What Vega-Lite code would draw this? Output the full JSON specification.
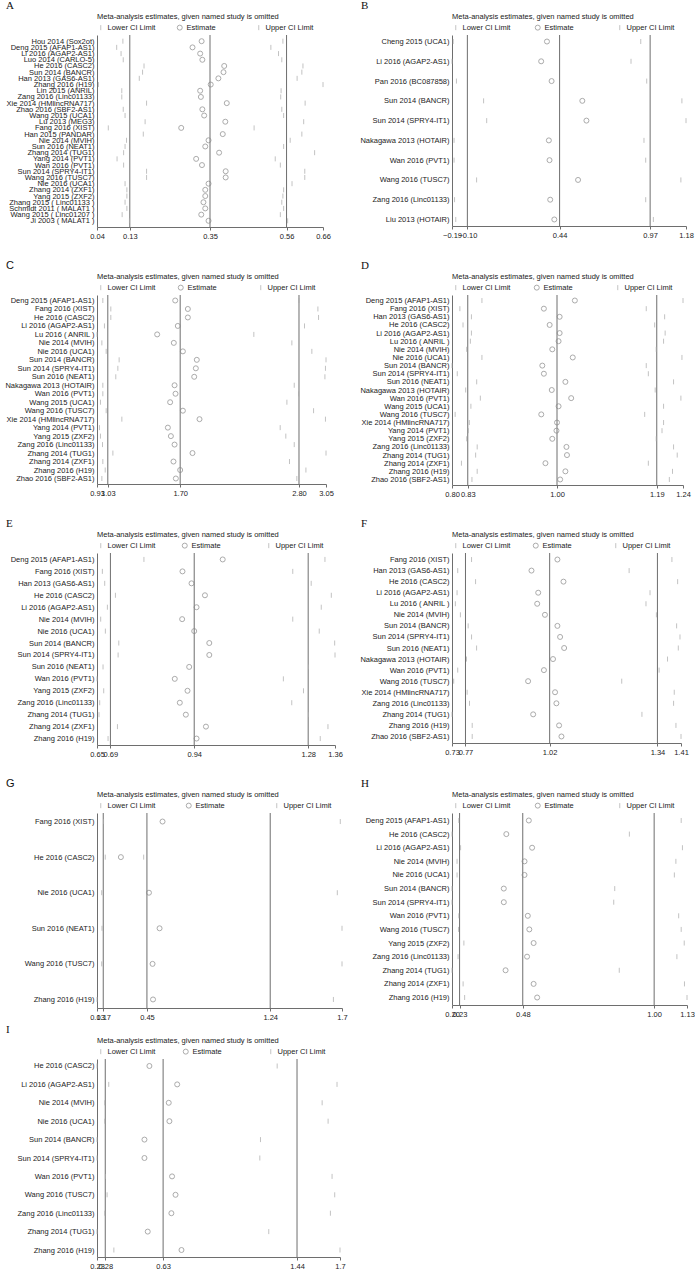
{
"$schema": "https://vega.github.io/schema/vega-lite/v6.json",
"padding": 0,
"background": "white",
"spacing": 3,
"resolve": {"scale": {"shape": "independent", "color": "independent"}, "legend": {"shape": "independent", "color": "independent"}},
"datasets": {
"refs": [
{"p":"A","v":0.13},{"p":"A","v":0.35},{"p":"A","v":0.56},
{"p":"B","v":-0.10},{"p":"B","v":0.44},{"p":"B","v":0.97},
{"p":"C","v":1.03},{"p":"C","v":1.70},{"p":"C","v":2.80},
{"p":"D","v":0.83},{"p":"D","v":1.00},{"p":"D","v":1.19},
{"p":"E","v":0.69},{"p":"E","v":0.94},{"p":"E","v":1.28},
{"p":"F","v":0.77},{"p":"F","v":1.02},{"p":"F","v":1.34},
{"p":"G","v":0.17},{"p":"G","v":0.45},{"p":"G","v":1.24},
{"p":"H","v":0.23},{"p":"H","v":0.48},{"p":"H","v":1.00},
{"p":"I","v":0.28},{"p":"I","v":0.63},{"p":"I","v":1.44}
],
"rows": [
{"p":"A","s":"Hou 2014 (Sox2ot)","lo":0.111,"est":0.327,"hi":0.550},
{"p":"A","s":"Deng 2015 (AFAP1-AS1)","lo":0.094,"est":0.302,"hi":0.517},
{"p":"A","s":"Li 2016 (AGAP2-AS1)","lo":0.106,"est":0.323,"hi":0.538},
{"p":"A","s":"Luo 2014 (CARLO-5)","lo":0.112,"est":0.329,"hi":0.547},
{"p":"A","s":"He 2016 (CASC2)","lo":0.169,"est":0.389,"hi":0.605},
{"p":"A","s":"Sun 2014 (BANCR)","lo":0.165,"est":0.387,"hi":0.602},
{"p":"A","s":"Han 2013 (GAS6-AS1)","lo":0.156,"est":0.373,"hi":0.589},
{"p":"A","s":"Zhang 2016 (H19)","lo":0.044,"est":0.352,"hi":0.660},
{"p":"A","s":"Lin 2015 (ANRIL)","lo":0.108,"est":0.323,"hi":0.545},
{"p":"A","s":"Zang 2016 (Linc01133)","lo":0.108,"est":0.325,"hi":0.544},
{"p":"A","s":"Xie 2014 (HMlincRNA717)","lo":0.176,"est":0.396,"hi":0.611},
{"p":"A","s":"Zhao 2016 (SBF2-AS1)","lo":0.112,"est":0.329,"hi":0.547},
{"p":"A","s":"Wang 2015 (UCA1)","lo":0.117,"est":0.334,"hi":0.552},
{"p":"A","s":"Lu 2013 (MEG3)","lo":0.172,"est":0.392,"hi":0.607},
{"p":"A","s":"Fang 2016 (XIST)","lo":0.071,"est":0.271,"hi":0.471},
{"p":"A","s":"Han 2015 (PANDAR)","lo":0.167,"est":0.385,"hi":0.602},
{"p":"A","s":"Nie 2014 (MVIH)","lo":0.121,"est":0.346,"hi":0.570},
{"p":"A","s":"Sun 2016 (NEAT1)","lo":0.117,"est":0.337,"hi":0.552},
{"p":"A","s":"Zhang 2014 (TUG1)","lo":0.113,"est":0.375,"hi":0.637},
{"p":"A","s":"Yang 2014 (PVT1)","lo":0.095,"est":0.312,"hi":0.529},
{"p":"A","s":"Wan 2016 (PVT1)","lo":0.113,"est":0.328,"hi":0.543},
{"p":"A","s":"Sun 2014 (SPRY4-IT1)","lo":0.176,"est":0.393,"hi":0.610},
{"p":"A","s":"Wang 2016 (TUSC7)","lo":0.176,"est":0.393,"hi":0.610},
{"p":"A","s":"Nie 2016 (UCA1)","lo":0.117,"est":0.346,"hi":0.575},
{"p":"A","s":"Zhang 2014 (ZXF1)","lo":0.122,"est":0.337,"hi":0.552},
{"p":"A","s":"Yang 2015 (ZXF2)","lo":0.122,"est":0.337,"hi":0.550},
{"p":"A","s":"Zhang 2015 ( Linc01133 )","lo":0.117,"est":0.332,"hi":0.547},
{"p":"A","s":"Schmidt 2011 ( MALAT1 )","lo":0.122,"est":0.337,"hi":0.552},
{"p":"A","s":"Wang 2015 ( Linc01207 )","lo":0.109,"est":0.326,"hi":0.543},
{"p":"A","s":"Ji 2003 ( MALAT1 )","lo":0.129,"est":0.346,"hi":0.563},
{"p":"B","s":"Cheng 2015 (UCA1)","lo":-0.183,"est":0.366,"hi":0.915},
{"p":"B","s":"Li 2016 (AGAP2-AS1)","lo":-0.19,"est":0.332,"hi":0.858},
{"p":"B","s":"Pan 2016 (BC087858)","lo":-0.164,"est":0.393,"hi":0.950},
{"p":"B","s":"Sun 2014 (BANCR)","lo":-0.005,"est":0.573,"hi":1.156},
{"p":"B","s":"Sun 2014 (SPRY4-IT1)","lo":0.013,"est":0.597,"hi":1.18},
{"p":"B","s":"Nakagawa 2013 (HOTAIR)","lo":-0.178,"est":0.377,"hi":0.934},
{"p":"B","s":"Wan 2016 (PVT1)","lo":-0.178,"est":0.381,"hi":0.944},
{"p":"B","s":"Wang 2016 (TUSC7)","lo":-0.046,"est":0.548,"hi":1.150},
{"p":"B","s":"Zang 2016 (Linc01133)","lo":-0.175,"est":0.385,"hi":0.944},
{"p":"B","s":"Liu 2013 (HOTAIR)","lo":-0.168,"est":0.409,"hi":0.989},
{"p":"C","s":"Deng 2015 (AFAP1-AS1)","lo":0.984,"est":1.654,"hi":2.80},
{"p":"C","s":"Fang 2016 (XIST)","lo":1.058,"est":1.771,"hi":2.975},
{"p":"C","s":"He 2016 (CASC2)","lo":1.058,"est":1.771,"hi":2.981},
{"p":"C","s":"Li 2016 (AGAP2-AS1)","lo":0.999,"est":1.678,"hi":2.851},
{"p":"C","s":"Lu 2016  ( ANRIL )","lo":0.93,"est":1.487,"hi":2.382},
{"p":"C","s":"Nie 2014 (MVIH)","lo":0.975,"est":1.641,"hi":2.734},
{"p":"C","s":"Nie 2016 (UCA1)","lo":1.015,"est":1.725,"hi":2.919},
{"p":"C","s":"Sun 2014 (BANCR)","lo":1.135,"est":1.854,"hi":3.05},
{"p":"C","s":"Sun 2014 (SPRY4-IT1)","lo":1.123,"est":1.845,"hi":3.045},
{"p":"C","s":"Sun 2016 (NEAT1)","lo":1.104,"est":1.83,"hi":3.04},
{"p":"C","s":"Nakagawa 2013 (HOTAIR)","lo":0.984,"est":1.648,"hi":2.756},
{"p":"C","s":"Wan 2016 (PVT1)","lo":0.984,"est":1.657,"hi":2.796},
{"p":"C","s":"Wang 2015 (UCA1)","lo":0.962,"est":1.607,"hi":2.688},
{"p":"C","s":"Wang 2016 (TUSC7)","lo":1.015,"est":1.725,"hi":2.935},
{"p":"C","s":"Xie 2014 (HMlincRNA717)","lo":1.16,"est":1.879,"hi":3.045},
{"p":"C","s":"Yang 2014 (PVT1)","lo":0.953,"est":1.586,"hi":2.626},
{"p":"C","s":"Yang 2015 (ZXF2)","lo":0.962,"est":1.614,"hi":2.678},
{"p":"C","s":"Zang 2016 (Linc01133)","lo":0.981,"est":1.648,"hi":2.756},
{"p":"C","s":"Zhang 2014 (TUG1)","lo":1.077,"est":1.814,"hi":3.05},
{"p":"C","s":"Zhang 2014 (ZXF1)","lo":0.984,"est":1.638,"hi":2.712},
{"p":"C","s":"Zhang 2016 (H19)","lo":1.006,"est":1.70,"hi":2.864},
{"p":"C","s":"Zhao 2016 (SBF2-AS1)","lo":0.975,"est":1.66,"hi":2.78},
{"p":"D","s":"Deng 2015 (AFAP1-AS1)","lo":0.857,"est":1.034,"hi":1.24},
{"p":"D","s":"Fang 2016 (XIST)","lo":0.815,"est":0.975,"hi":1.17},
{"p":"D","s":"Han 2013 (GAS6-AS1)","lo":0.837,"est":1.005,"hi":1.205},
{"p":"D","s":"He 2016 (CASC2)","lo":0.821,"est":0.986,"hi":1.186},
{"p":"D","s":"Li 2016 (AGAP2-AS1)","lo":0.837,"est":1.005,"hi":1.206},
{"p":"D","s":"Lu 2016  ( ANRIL )","lo":0.835,"est":1.003,"hi":1.203},
{"p":"D","s":"Nie 2014 (MVIH)","lo":0.828,"est":0.991,"hi":1.189},
{"p":"D","s":"Nie 2016 (UCA1)","lo":0.857,"est":1.03,"hi":1.238},
{"p":"D","s":"Sun 2014 (BANCR)","lo":0.80,"est":0.972,"hi":1.17},
{"p":"D","s":"Sun 2014 (SPRY4-IT1)","lo":0.81,"est":0.975,"hi":1.174},
{"p":"D","s":"Sun 2016 (NEAT1)","lo":0.847,"est":1.016,"hi":1.222},
{"p":"D","s":"Nakagawa 2013 (HOTAIR)","lo":0.826,"est":0.99,"hi":1.187},
{"p":"D","s":"Wan 2016 (PVT1)","lo":0.854,"est":1.027,"hi":1.236},
{"p":"D","s":"Wang 2015 (UCA1)","lo":0.836,"est":1.003,"hi":1.203},
{"p":"D","s":"Wang 2016 (TUSC7)","lo":0.806,"est":0.97,"hi":1.167},
{"p":"D","s":"Xie 2014 (HMlincRNA717)","lo":0.833,"est":1.0,"hi":1.203},
{"p":"D","s":"Yang 2014 (PVT1)","lo":0.831,"est":0.999,"hi":1.2},
{"p":"D","s":"Yang 2015 (ZXF2)","lo":0.828,"est":0.991,"hi":1.189},
{"p":"D","s":"Zang 2016 (Linc01133)","lo":0.848,"est":1.018,"hi":1.222},
{"p":"D","s":"Zhang 2014 (TUG1)","lo":0.845,"est":1.019,"hi":1.229},
{"p":"D","s":"Zhang 2014 (ZXF1)","lo":0.818,"est":0.978,"hi":1.174},
{"p":"D","s":"Zhang 2016 (H19)","lo":0.848,"est":1.016,"hi":1.22},
{"p":"D","s":"Zhao 2016 (SBF2-AS1)","lo":0.838,"est":1.006,"hi":1.214},
{"p":"E","s":"Deng 2015 (AFAP1-AS1)","lo":0.79,"est":1.025,"hi":1.33},
{"p":"E","s":"Fang 2016 (XIST)","lo":0.666,"est":0.905,"hi":1.234},
{"p":"E","s":"Han 2013 (GAS6-AS1)","lo":0.673,"est":0.932,"hi":1.289},
{"p":"E","s":"He 2016 (CASC2)","lo":0.705,"est":0.972,"hi":1.349},
{"p":"E","s":"Li 2016 (AGAP2-AS1)","lo":0.681,"est":0.947,"hi":1.319},
{"p":"E","s":"Nie 2014 (MVIH)","lo":0.661,"est":0.904,"hi":1.234},
{"p":"E","s":"Nie 2016 (UCA1)","lo":0.675,"est":0.94,"hi":1.313},
{"p":"E","s":"Sun 2014 (BANCR)","lo":0.715,"est":0.985,"hi":1.359},
{"p":"E","s":"Sun 2014 (SPRY4-IT1)","lo":0.713,"est":0.985,"hi":1.36},
{"p":"E","s":"Sun 2016 (NEAT1)","lo":0.668,"est":0.925,"hi":1.281},
{"p":"E","s":"Wan 2016 (PVT1)","lo":0.65,"est":0.882,"hi":1.206},
{"p":"E","s":"Yang 2015 (ZXF2)","lo":0.67,"est":0.92,"hi":1.266},
{"p":"E","s":"Zang 2016 (Linc01133)","lo":0.658,"est":0.897,"hi":1.231},
{"p":"E","s":"Zhang 2014 (TUG1)","lo":0.656,"est":0.915,"hi":1.281},
{"p":"E","s":"Zhang 2014 (ZXF1)","lo":0.711,"est":0.975,"hi":1.339},
{"p":"E","s":"Zhang 2016 (H19)","lo":0.683,"est":0.947,"hi":1.316},
{"p":"F","s":"Fang 2016 (XIST)","lo":0.788,"est":1.043,"hi":1.383},
{"p":"F","s":"Han 2013 (GAS6-AS1)","lo":0.747,"est":0.966,"hi":1.256},
{"p":"F","s":"He 2016 (CASC2)","lo":0.80,"est":1.061,"hi":1.40},
{"p":"F","s":"Li 2016 (AGAP2-AS1)","lo":0.745,"est":0.986,"hi":1.318},
{"p":"F","s":"Lu 2016  ( ANRIL )","lo":0.74,"est":0.983,"hi":1.306},
{"p":"F","s":"Nie 2014 (MVIH)","lo":0.755,"est":1.006,"hi":1.337},
{"p":"F","s":"Sun 2014 (BANCR)","lo":0.778,"est":1.043,"hi":1.397},
{"p":"F","s":"Sun 2014 (SPRY4-IT1)","lo":0.788,"est":1.051,"hi":1.407},
{"p":"F","s":"Sun 2016 (NEAT1)","lo":0.803,"est":1.063,"hi":1.402},
{"p":"F","s":"Nakagawa 2013 (HOTAIR)","lo":0.773,"est":1.03,"hi":1.37},
{"p":"F","s":"Wan 2016 (PVT1)","lo":0.747,"est":1.003,"hi":1.345},
{"p":"F","s":"Wang 2016 (TUSC7)","lo":0.735,"est":0.956,"hi":1.234},
{"p":"F","s":"Xie 2014 (HMlincRNA717)","lo":0.775,"est":1.036,"hi":1.39},
{"p":"F","s":"Zang 2016 (Linc01133)","lo":0.782,"est":1.04,"hi":1.388},
{"p":"F","s":"Zhang 2014 (TUG1)","lo":0.73,"est":0.971,"hi":1.294},
{"p":"F","s":"Zhang 2016 (H19)","lo":0.79,"est":1.048,"hi":1.395},
{"p":"F","s":"Zhao 2016 (SBF2-AS1)","lo":0.79,"est":1.055,"hi":1.41},
{"p":"G","s":"Fang 2016 (XIST)","lo":0.172,"est":0.55,"hi":1.689},
{"p":"G","s":"He 2016 (CASC2)","lo":0.183,"est":0.283,"hi":0.429},
{"p":"G","s":"Nie 2016 (UCA1)","lo":0.16,"est":0.463,"hi":1.67},
{"p":"G","s":"Sun 2016 (NEAT1)","lo":0.162,"est":0.531,"hi":1.70},
{"p":"G","s":"Wang 2016 (TUSC7)","lo":0.16,"est":0.486,"hi":1.70},
{"p":"G","s":"Zhang 2016 (H19)","lo":0.13,"est":0.489,"hi":1.645},
{"p":"H","s":"Deng 2015 (AFAP1-AS1)","lo":0.227,"est":0.504,"hi":1.107},
{"p":"H","s":"He 2016 (CASC2)","lo":0.20,"est":0.415,"hi":0.902},
{"p":"H","s":"Li 2016 (AGAP2-AS1)","lo":0.234,"est":0.517,"hi":1.112},
{"p":"H","s":"Nie 2014 (MVIH)","lo":0.22,"est":0.487,"hi":1.086},
{"p":"H","s":"Nie 2016 (UCA1)","lo":0.22,"est":0.487,"hi":1.08},
{"p":"H","s":"Sun 2014 (BANCR)","lo":0.20,"est":0.405,"hi":0.844},
{"p":"H","s":"Sun 2014 (SPRY4-IT1)","lo":0.20,"est":0.405,"hi":0.84},
{"p":"H","s":"Wan 2016 (PVT1)","lo":0.227,"est":0.50,"hi":1.097},
{"p":"H","s":"Wang 2016 (TUSC7)","lo":0.226,"est":0.506,"hi":1.107},
{"p":"H","s":"Yang 2015 (ZXF2)","lo":0.247,"est":0.523,"hi":1.119},
{"p":"H","s":"Zang 2016 (Linc01133)","lo":0.224,"est":0.497,"hi":1.09},
{"p":"H","s":"Zhang 2014 (TUG1)","lo":0.20,"est":0.412,"hi":0.862},
{"p":"H","s":"Zhang 2014 (ZXF1)","lo":0.244,"est":0.523,"hi":1.12},
{"p":"H","s":"Zhang 2016 (H19)","lo":0.25,"est":0.537,"hi":1.13},
{"p":"I","s":"He 2016 (CASC2)","lo":0.23,"est":0.547,"hi":1.32},
{"p":"I","s":"Li 2016 (AGAP2-AS1)","lo":0.301,"est":0.715,"hi":1.682},
{"p":"I","s":"Nie 2014 (MVIH)","lo":0.277,"est":0.664,"hi":1.592},
{"p":"I","s":"Nie 2016 (UCA1)","lo":0.277,"est":0.668,"hi":1.628},
{"p":"I","s":"Sun 2014 (BANCR)","lo":0.23,"est":0.517,"hi":1.219},
{"p":"I","s":"Sun 2014 (SPRY4-IT1)","lo":0.23,"est":0.517,"hi":1.215},
{"p":"I","s":"Wan 2016 (PVT1)","lo":0.281,"est":0.684,"hi":1.652},
{"p":"I","s":"Wang 2016 (TUSC7)","lo":0.291,"est":0.705,"hi":1.668},
{"p":"I","s":"Zang 2016 (Linc01133)","lo":0.277,"est":0.68,"hi":1.642},
{"p":"I","s":"Zhang 2014 (TUG1)","lo":0.23,"est":0.537,"hi":1.269},
{"p":"I","s":"Zhang 2016 (H19)","lo":0.332,"est":0.741,"hi":1.70}
]
},
"vconcat": [
{"columns": 2,
 "spacing": {"row": 20, "column": 7},
 "resolve": {"scale": {"shape": "independent", "color": "independent"}, "legend": {"shape": "independent", "color": "independent"}},
 "concat": [
{"title": {"text": "A"}, "width": 226, "height": 192,
 "layer": [
  {"data": {"name": "refs"}, "transform": [{"filter": "datum.p == 'A'"}], "mark": {"type": "rule", "color": "#6e6e6e", "strokeWidth": 1},
   "encoding": {"x": {"field": "v", "type": "quantitative", "scale": {"domain": [0.04, 0.66], "nice": false, "zero": false}, "axis": {"title": null, "values": [0.04, 0.13, 0.35, 0.56, 0.66], "format": ".2f"}}}},
  {"data": {"name": "rows"}, "transform": [{"filter": "datum.p == 'A'"}, {"fold": ["lo", "est", "hi"], "as": ["kind", "v"]}], "mark": {"type": "point", "filled": false, "size": 25, "strokeWidth": 1},
   "encoding": {"x": {"field": "v", "type": "quantitative"},
    "y": {"field": "s", "type": "nominal", "sort": null, "scale": {"type": "point", "padding": 1.05}, "axis": {"title": null}},
    "shape": {"field": "kind", "type": "nominal", "scale": {"domain": ["lo", "est", "hi"], "range": ["M0,-1L0,1", "circle", "M0,-1L0,1"]}, "legend": {"title": "Meta-analysis estimates, given named study is omitted", "columnPadding": 19, "labelExpr": "datum.label == 'lo' ? 'Lower CI Limit' : datum.label == 'est' ? 'Estimate' : 'Upper CI Limit'"}},
    "color": {"field": "kind", "type": "nominal", "scale": {"domain": ["lo", "est", "hi"], "range": ["#aaaaaa", "#888888", "#aaaaaa"]}, "legend": {"title": "Meta-analysis estimates, given named study is omitted", "columnPadding": 19, "labelExpr": "datum.label == 'lo' ? 'Lower CI Limit' : datum.label == 'est' ? 'Estimate' : 'Upper CI Limit'"}}}}
 ]},
{"title": {"text": "B"}, "width": 234, "height": 191,
 "layer": [
  {"data": {"name": "refs"}, "transform": [{"filter": "datum.p == 'B'"}], "mark": {"type": "rule", "color": "#6e6e6e", "strokeWidth": 1},
   "encoding": {"x": {"field": "v", "type": "quantitative", "scale": {"domain": [-0.19, 1.18], "nice": false, "zero": false}, "axis": {"title": null, "values": [-0.19, -0.10, 0.44, 0.97, 1.18], "format": ".2f"}}}},
  {"data": {"name": "rows"}, "transform": [{"filter": "datum.p == 'B'"}, {"fold": ["lo", "est", "hi"], "as": ["kind", "v"]}], "mark": {"type": "point", "filled": false, "size": 25, "strokeWidth": 1},
   "encoding": {"x": {"field": "v", "type": "quantitative"},
    "y": {"field": "s", "type": "nominal", "sort": null, "scale": {"type": "point", "padding": 0.33}, "axis": {"title": null}},
    "shape": {"field": "kind", "type": "nominal", "scale": {"domain": ["lo", "est", "hi"], "range": ["M0,-1L0,1", "circle", "M0,-1L0,1"]}, "legend": {"title": "Meta-analysis estimates, given named study is omitted", "columnPadding": 22, "labelExpr": "datum.label == 'lo' ? 'Lower CI Limit' : datum.label == 'est' ? 'Estimate' : 'Upper CI Limit'"}},
    "color": {"field": "kind", "type": "nominal", "scale": {"domain": ["lo", "est", "hi"], "range": ["#aaaaaa", "#888888", "#aaaaaa"]}, "legend": {"title": "Meta-analysis estimates, given named study is omitted", "columnPadding": 22, "labelExpr": "datum.label == 'lo' ? 'Lower CI Limit' : datum.label == 'est' ? 'Estimate' : 'Upper CI Limit'"}}}}
 ]},
{"title": {"text": "C", "font": "Liberation Sans"}, "width": 229, "height": 189,
 "layer": [
  {"data": {"name": "refs"}, "transform": [{"filter": "datum.p == 'C'"}], "mark": {"type": "rule", "color": "#6e6e6e", "strokeWidth": 1},
   "encoding": {"x": {"field": "v", "type": "quantitative", "scale": {"domain": [0.93, 3.05], "nice": false, "zero": false}, "axis": {"title": null, "values": [0.93, 1.03, 1.70, 2.80, 3.05], "format": ".2f"}}}},
  {"data": {"name": "rows"}, "transform": [{"filter": "datum.p == 'C'"}, {"fold": ["lo", "est", "hi"], "as": ["kind", "v"]}], "mark": {"type": "point", "filled": false, "size": 25, "strokeWidth": 1},
   "encoding": {"x": {"field": "v", "type": "quantitative"},
    "y": {"field": "s", "type": "nominal", "sort": null, "scale": {"type": "point", "padding": 0.65}, "axis": {"title": null}},
    "shape": {"field": "kind", "type": "nominal", "scale": {"domain": ["lo", "est", "hi"], "range": ["M0,-1L0,1", "circle", "M0,-1L0,1"]}, "legend": {"title": "Meta-analysis estimates, given named study is omitted", "columnPadding": 20, "labelExpr": "datum.label == 'lo' ? 'Lower CI Limit' : datum.label == 'est' ? 'Estimate' : 'Upper CI Limit'"}},
    "color": {"field": "kind", "type": "nominal", "scale": {"domain": ["lo", "est", "hi"], "range": ["#aaaaaa", "#888888", "#aaaaaa"]}, "legend": {"title": "Meta-analysis estimates, given named study is omitted", "columnPadding": 20, "labelExpr": "datum.label == 'lo' ? 'Lower CI Limit' : datum.label == 'est' ? 'Estimate' : 'Upper CI Limit'"}}}}
 ]},
{"title": {"text": "D"}, "width": 231, "height": 190,
 "layer": [
  {"data": {"name": "refs"}, "transform": [{"filter": "datum.p == 'D'"}], "mark": {"type": "rule", "color": "#6e6e6e", "strokeWidth": 1},
   "encoding": {"x": {"field": "v", "type": "quantitative", "scale": {"domain": [0.80, 1.24], "nice": false, "zero": false}, "axis": {"title": null, "values": [0.80, 0.83, 1.00, 1.19, 1.24], "format": ".2f"}}}},
  {"data": {"name": "rows"}, "transform": [{"filter": "datum.p == 'D'"}, {"fold": ["lo", "est", "hi"], "as": ["kind", "v"]}], "mark": {"type": "point", "filled": false, "size": 25, "strokeWidth": 1},
   "encoding": {"x": {"field": "v", "type": "quantitative"},
    "y": {"field": "s", "type": "nominal", "sort": null, "scale": {"type": "point", "padding": 0.68}, "axis": {"title": null}},
    "shape": {"field": "kind", "type": "nominal", "scale": {"domain": ["lo", "est", "hi"], "range": ["M0,-1L0,1", "circle", "M0,-1L0,1"]}, "legend": {"title": "Meta-analysis estimates, given named study is omitted", "columnPadding": 21, "labelExpr": "datum.label == 'lo' ? 'Lower CI Limit' : datum.label == 'est' ? 'Estimate' : 'Upper CI Limit'"}},
    "color": {"field": "kind", "type": "nominal", "scale": {"domain": ["lo", "est", "hi"], "range": ["#aaaaaa", "#888888", "#aaaaaa"]}, "legend": {"title": "Meta-analysis estimates, given named study is omitted", "columnPadding": 21, "labelExpr": "datum.label == 'lo' ? 'Lower CI Limit' : datum.label == 'est' ? 'Estimate' : 'Upper CI Limit'"}}}}
 ]},
{"title": {"text": "E"}, "width": 238, "height": 192,
 "layer": [
  {"data": {"name": "refs"}, "transform": [{"filter": "datum.p == 'E'"}], "mark": {"type": "rule", "color": "#6e6e6e", "strokeWidth": 1},
   "encoding": {"x": {"field": "v", "type": "quantitative", "scale": {"domain": [0.65, 1.36], "nice": false, "zero": false}, "axis": {"title": null, "values": [0.65, 0.69, 0.94, 1.28, 1.36], "format": ".2f"}}}},
  {"data": {"name": "rows"}, "transform": [{"filter": "datum.p == 'E'"}, {"fold": ["lo", "est", "hi"], "as": ["kind", "v"]}], "mark": {"type": "point", "filled": false, "size": 25, "strokeWidth": 1},
   "encoding": {"x": {"field": "v", "type": "quantitative"},
    "y": {"field": "s", "type": "nominal", "sort": null, "scale": {"type": "point", "padding": 0.54}, "axis": {"title": null}},
    "shape": {"field": "kind", "type": "nominal", "scale": {"domain": ["lo", "est", "hi"], "range": ["M0,-1L0,1", "circle", "M0,-1L0,1"]}, "legend": {"title": "Meta-analysis estimates, given named study is omitted", "columnPadding": 24, "labelExpr": "datum.label == 'lo' ? 'Lower CI Limit' : datum.label == 'est' ? 'Estimate' : 'Upper CI Limit'"}},
    "color": {"field": "kind", "type": "nominal", "scale": {"domain": ["lo", "est", "hi"], "range": ["#aaaaaa", "#888888", "#aaaaaa"]}, "legend": {"title": "Meta-analysis estimates, given named study is omitted", "columnPadding": 24, "labelExpr": "datum.label == 'lo' ? 'Lower CI Limit' : datum.label == 'est' ? 'Estimate' : 'Upper CI Limit'"}}}}
 ]},
{"title": {"text": "F"}, "width": 229, "height": 190,
 "layer": [
  {"data": {"name": "refs"}, "transform": [{"filter": "datum.p == 'F'"}], "mark": {"type": "rule", "color": "#6e6e6e", "strokeWidth": 1},
   "encoding": {"x": {"field": "v", "type": "quantitative", "scale": {"domain": [0.73, 1.41], "nice": false, "zero": false}, "axis": {"title": null, "values": [0.73, 0.77, 1.02, 1.34, 1.41], "format": ".2f"}}}},
  {"data": {"name": "rows"}, "transform": [{"filter": "datum.p == 'F'"}, {"fold": ["lo", "est", "hi"], "as": ["kind", "v"]}], "mark": {"type": "point", "filled": false, "size": 25, "strokeWidth": 1},
   "encoding": {"x": {"field": "v", "type": "quantitative"},
    "y": {"field": "s", "type": "nominal", "sort": null, "scale": {"type": "point", "padding": 0.59}, "axis": {"title": null}},
    "shape": {"field": "kind", "type": "nominal", "scale": {"domain": ["lo", "est", "hi"], "range": ["M0,-1L0,1", "circle", "M0,-1L0,1"]}, "legend": {"title": "Meta-analysis estimates, given named study is omitted", "columnPadding": 20, "labelExpr": "datum.label == 'lo' ? 'Lower CI Limit' : datum.label == 'est' ? 'Estimate' : 'Upper CI Limit'"}},
    "color": {"field": "kind", "type": "nominal", "scale": {"domain": ["lo", "est", "hi"], "range": ["#aaaaaa", "#888888", "#aaaaaa"]}, "legend": {"title": "Meta-analysis estimates, given named study is omitted", "columnPadding": 20, "labelExpr": "datum.label == 'lo' ? 'Lower CI Limit' : datum.label == 'est' ? 'Estimate' : 'Upper CI Limit'"}}}}
 ]},
{"title": {"text": "G", "font": "Liberation Sans"}, "width": 245, "height": 195,
 "layer": [
  {"data": {"name": "refs"}, "transform": [{"filter": "datum.p == 'G'"}], "mark": {"type": "rule", "color": "#6e6e6e", "strokeWidth": 1},
   "encoding": {"x": {"field": "v", "type": "quantitative", "scale": {"domain": [0.13, 1.7], "nice": false, "zero": false}, "axis": {"title": null, "values": [0.13, 0.17, 0.45, 1.24, 1.7], "format": ".2~f"}}}},
  {"data": {"name": "rows"}, "transform": [{"filter": "datum.p == 'G'"}, {"fold": ["lo", "est", "hi"], "as": ["kind", "v"]}], "mark": {"type": "point", "filled": false, "size": 25, "strokeWidth": 1},
   "encoding": {"x": {"field": "v", "type": "quantitative"},
    "y": {"field": "s", "type": "nominal", "sort": null, "scale": {"type": "point", "padding": 0.24}, "axis": {"title": null}},
    "shape": {"field": "kind", "type": "nominal", "scale": {"domain": ["lo", "est", "hi"], "range": ["M0,-1L0,1", "circle", "M0,-1L0,1"]}, "legend": {"title": "Meta-analysis estimates, given named study is omitted", "columnPadding": 28, "labelExpr": "datum.label == 'lo' ? 'Lower CI Limit' : datum.label == 'est' ? 'Estimate' : 'Upper CI Limit'"}},
    "color": {"field": "kind", "type": "nominal", "scale": {"domain": ["lo", "est", "hi"], "range": ["#aaaaaa", "#888888", "#aaaaaa"]}, "legend": {"title": "Meta-analysis estimates, given named study is omitted", "columnPadding": 28, "labelExpr": "datum.label == 'lo' ? 'Lower CI Limit' : datum.label == 'est' ? 'Estimate' : 'Upper CI Limit'"}}}}
 ]},
{"title": {"text": "H"}, "width": 235, "height": 192,
 "layer": [
  {"data": {"name": "refs"}, "transform": [{"filter": "datum.p == 'H'"}], "mark": {"type": "rule", "color": "#6e6e6e", "strokeWidth": 1},
   "encoding": {"x": {"field": "v", "type": "quantitative", "scale": {"domain": [0.20, 1.13], "nice": false, "zero": false}, "axis": {"title": null, "values": [0.20, 0.23, 0.48, 1.00, 1.13], "format": ".2f"}}}},
  {"data": {"name": "rows"}, "transform": [{"filter": "datum.p == 'H'"}, {"fold": ["lo", "est", "hi"], "as": ["kind", "v"]}], "mark": {"type": "point", "filled": false, "size": 25, "strokeWidth": 1},
   "encoding": {"x": {"field": "v", "type": "quantitative"},
    "y": {"field": "s", "type": "nominal", "sort": null, "scale": {"type": "point", "padding": 0.55}, "axis": {"title": null}},
    "shape": {"field": "kind", "type": "nominal", "scale": {"domain": ["lo", "est", "hi"], "range": ["M0,-1L0,1", "circle", "M0,-1L0,1"]}, "legend": {"title": "Meta-analysis estimates, given named study is omitted", "columnPadding": 22, "labelExpr": "datum.label == 'lo' ? 'Lower CI Limit' : datum.label == 'est' ? 'Estimate' : 'Upper CI Limit'"}},
    "color": {"field": "kind", "type": "nominal", "scale": {"domain": ["lo", "est", "hi"], "range": ["#aaaaaa", "#888888", "#aaaaaa"]}, "legend": {"title": "Meta-analysis estimates, given named study is omitted", "columnPadding": 22, "labelExpr": "datum.label == 'lo' ? 'Lower CI Limit' : datum.label == 'est' ? 'Estimate' : 'Upper CI Limit'"}}}}
 ]}
 ]},
{"title": {"text": "I"}, "width": 243, "height": 198,
 "layer": [
  {"data": {"name": "refs"}, "transform": [{"filter": "datum.p == 'I'"}], "mark": {"type": "rule", "color": "#6e6e6e", "strokeWidth": 1},
   "encoding": {"x": {"field": "v", "type": "quantitative", "scale": {"domain": [0.23, 1.7], "nice": false, "zero": false}, "axis": {"title": null, "values": [0.23, 0.28, 0.63, 1.44, 1.7], "format": ".2~f"}}}},
  {"data": {"name": "rows"}, "transform": [{"filter": "datum.p == 'I'"}, {"fold": ["lo", "est", "hi"], "as": ["kind", "v"]}], "mark": {"type": "point", "filled": false, "size": 25, "strokeWidth": 1},
   "encoding": {"x": {"field": "v", "type": "quantitative"},
    "y": {"field": "s", "type": "nominal", "sort": null, "scale": {"type": "point", "padding": 0.38}, "axis": {"title": null}},
    "shape": {"field": "kind", "type": "nominal", "scale": {"domain": ["lo", "est", "hi"], "range": ["M0,-1L0,1", "circle", "M0,-1L0,1"]}, "legend": {"title": "Meta-analysis estimates, given named study is omitted", "columnPadding": 25, "labelExpr": "datum.label == 'lo' ? 'Lower CI Limit' : datum.label == 'est' ? 'Estimate' : 'Upper CI Limit'"}},
    "color": {"field": "kind", "type": "nominal", "scale": {"domain": ["lo", "est", "hi"], "range": ["#aaaaaa", "#888888", "#aaaaaa"]}, "legend": {"title": "Meta-analysis estimates, given named study is omitted", "columnPadding": 25, "labelExpr": "datum.label == 'lo' ? 'Lower CI Limit' : datum.label == 'est' ? 'Estimate' : 'Upper CI Limit'"}}}}
 ]}
],
"config": {
 "view": {"stroke": null},
 "font": "Liberation Sans",
 "title": {"anchor": "start", "frame": "bounds", "fontSize": 11, "fontWeight": "normal", "font": "Liberation Serif", "color": "#111111", "offset": 2, "dx": 6},
 "axis": {"grid": false, "domainColor": "#6e6e6e", "domainWidth": 1, "labelFont": "Liberation Sans", "labelFontSize": 7.5, "labelColor": "#222222", "labelOverlap": false, "tickColor": "#6e6e6e"},
 "axisX": {"tickSize": 3, "labelPadding": 2, "labelFlush": false, "labelBound": false},
 "axisY": {"ticks": false, "labelPadding": 3, "minExtent": 97, "maxExtent": 97, "labelLimit": 96},
 "legend": {"orient": "top", "direction": "horizontal", "columns": 3, "gridAlign": "all", "symbolSize": 25, "symbolStrokeWidth": 1, "labelFont": "Liberation Sans", "titleFont": "Liberation Sans", "labelFontSize": 7.5, "titleFontSize": 7.5, "titleFontWeight": "normal", "titleLimit": 320, "titlePadding": 3, "labelOffset": 3, "offset": 2, "padding": 0, "labelColor": "#222222", "titleColor": "#222222"}
}
}
